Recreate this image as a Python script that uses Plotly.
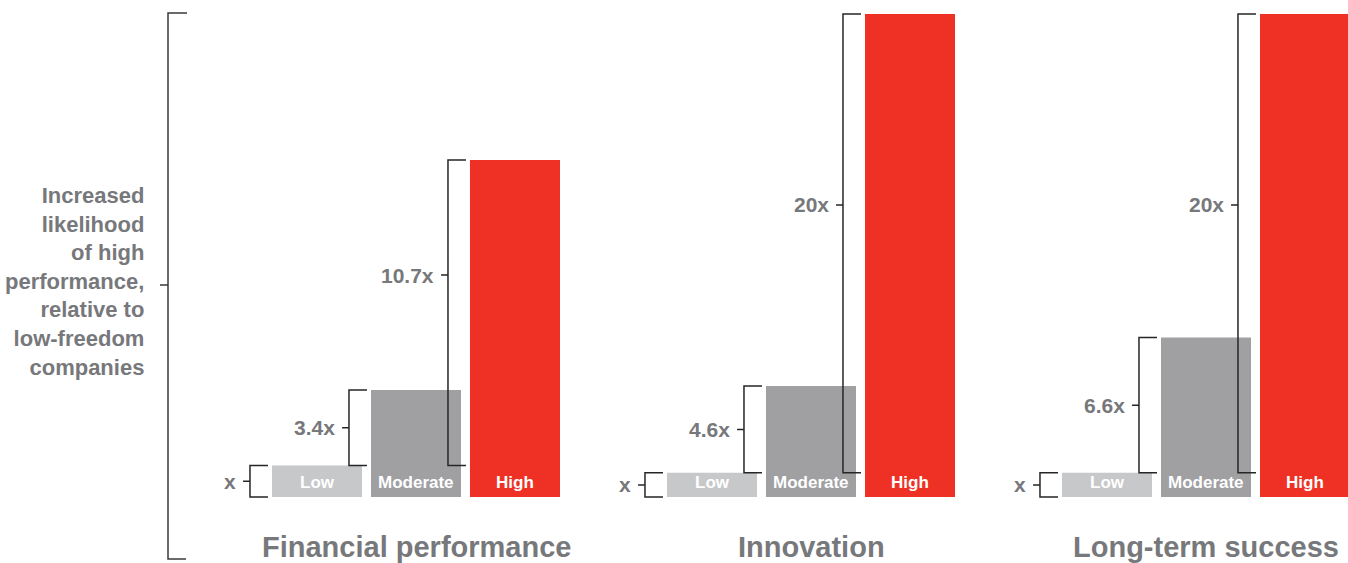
import plotly.graph_objects as go

# Data
categories = ["Low", "Moderate", "High"]
panel_titles = ["Financial performance", "Innovation", "Long-term success"]
financial = [1, 3.4, 10.7]
innovation = [1, 4.6, 20]
long_term = [1, 6.6, 20]
series = [financial, innovation, long_term]
axis_note = ["Increased", "likelihood", "of high", "performance,", "relative to",
             "low-freedom", "companies"]

# Styling
W, H = 1348, 563
BAR_COLORS = ["#c7c8ca", "#a0a0a3", "#ee3124"]
TEXT_GRAY = "#77787b"
LINE_COLOR = "#262626"
FONT = "Liberation Sans, Arial, Helvetica, sans-serif"

PITCH = 99.0            # px per category slot
PANEL_STEP = 395.0      # px between panels
FIRST_LEFT = 218.0      # px, left edge of first panel's x-domain
BASE_PX = 497.0         # px (from top) of bar baseline
DOM_TOP_PX, DOM_BOT_PX = 4.0, 507.0
px_per_unit = [337.0 / 10.7, 483.0 / 20.0, 483.0 / 20.0]
HIGH_TICK_PX = [275.0, 205.0, 205.0]   # label tick height on the tallest bracket


def px_x(p):
    return p / W


def px_y(p):
    return (H - p) / H


fig = go.Figure()
shapes, annotations = [], []

for i, (title, vals) in enumerate(zip(panel_titles, series)):
    sfx = "" if i == 0 else str(i + 1)
    xa, ya = "x" + sfx, "y" + sfx
    left = FIRST_LEFT + PANEL_STEP * i
    right = min(left + 3.5 * PITCH, W)
    s = px_per_unit[i]

    fig.add_trace(go.Bar(
        x=categories, y=vals, xaxis=xa, yaxis=ya,
        marker=dict(color=BAR_COLORS, line=dict(width=0)),
        hoverinfo="skip", showlegend=False,
    ))

    fig.layout["xaxis" + sfx] = dict(
        domain=[px_x(left), px_x(right)],
        range=[-1.0, -1.0 + (right - left) / PITCH],
        type="category", categoryorder="array", categoryarray=categories,
        visible=False, fixedrange=True, anchor=ya,
    )
    fig.layout["yaxis" + sfx] = dict(
        domain=[px_y(DOM_BOT_PX), px_y(DOM_TOP_PX)],
        range=[-(DOM_BOT_PX - BASE_PX) / s, (BASE_PX - DOM_TOP_PX) / s],
        visible=False, fixedrange=True, anchor=xa,
    )

    low = vals[0]
    for j, (cat, v) in enumerate(zip(categories, vals)):
        lo = 0 if j == 0 else low
        mid = (lo + v) / 2
        if j == len(vals) - 1:
            mid = (BASE_PX - HIGH_TICK_PX[i]) / s
        xv, xe, xt = j - 0.677, j - 0.495, j - 0.747
        shapes.append(dict(
            type="path", xref=xa, yref=ya,
            path=f"M {xe},{v} L {xv},{v} L {xv},{lo} L {xe},{lo} M {xv},{mid} L {xt},{mid}",
            line=dict(color=LINE_COLOR, width=1.5),
        ))
        label = "x" if v == 1 else f"{v:g}x"
        annotations.append(dict(
            xref=xa, yref=ya, x=j - 0.80, y=mid, text=f"<b>{label}</b>",
            showarrow=False, xanchor="right", yanchor="middle",
            font=dict(family=FONT, size=21, color=TEXT_GRAY),
        ))
        annotations.append(dict(
            xref=xa, yref=ya, x=j, y=0, yshift=15, text=f"<b>{cat}</b>",
            showarrow=False, xanchor="center", yanchor="middle",
            font=dict(family=FONT, size=17, color="white"),
        ))

    annotations.append(dict(
        xref="paper", yref="paper", x=px_x(317 + 99 + PANEL_STEP * i), y=px_y(547),
        text=f"<b>{title}</b>", showarrow=False, xanchor="center", yanchor="middle",
        font=dict(family=FONT, size=29, color=TEXT_GRAY),
    ))

# Overall bracket with its note
shapes.append(dict(
    type="path", xref="paper", yref="paper",
    path=(f"M {px_x(187)},{px_y(13)} L {px_x(168)},{px_y(13)} "
          f"L {px_x(168)},{px_y(559)} L {px_x(186)},{px_y(559)} "
          f"M {px_x(168)},{px_y(285)} L {px_x(160)},{px_y(285)}"),
    line=dict(color="#3a3a3a", width=1.5),
))
annotations.append(dict(
    xref="paper", yref="paper", x=px_x(146), y=px_y(281),
    text="<b>" + "<br>".join(axis_note) + "</b>",
    showarrow=False, xanchor="right", yanchor="middle", align="right",
    font=dict(family=FONT, size=22, color=TEXT_GRAY),
))

fig.update_layout(
    width=W, height=H, margin=dict(l=0, r=0, t=0, b=0),
    paper_bgcolor="white", plot_bgcolor="white",
    bargap=9.0 / PITCH, showlegend=False,
    shapes=shapes, annotations=annotations,
)

fig.write_html("out.html", config={"displayModeBar": False})
